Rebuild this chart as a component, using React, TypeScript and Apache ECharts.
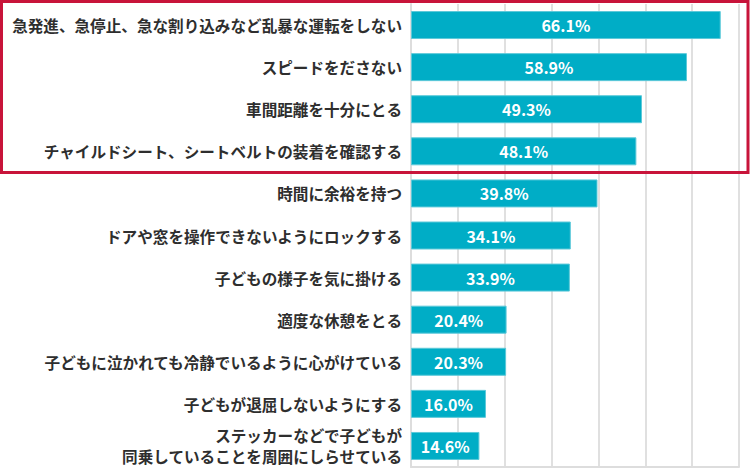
import React, { useEffect, useRef } from "react";
import * as echarts from "echarts";

const categories = [
  "急発進、急停止、急な割り込みなど乱暴な運転をしない",
  "スピードをださない",
  "車間距離を十分にとる",
  "チャイルドシート、シートベルトの装着を確認する",
  "時間に余裕を持つ",
  "ドアや窓を操作できないようにロックする",
  "子どもの様子を気に掛ける",
  "適度な休憩をとる",
  "子どもに泣かれても冷静でいるように心がけている",
  "子どもが退屈しないようにする",
  "ステッカーなどで子どもが\n同乗していることを周囲にしらせている",
];
const values = [66.1, 58.9, 49.3, 48.1, 39.8, 34.1, 33.9, 20.4, 20.3, 16.0, 14.6];

export default function App() {
  const ref = useRef<HTMLDivElement>(null);
  useEffect(() => {
    if (!ref.current) return;
    const chart = echarts.init(ref.current, undefined, { renderer: "svg" });
    const font = '"Noto Sans CJK JP", "Noto Sans", sans-serif';
    chart.setOption({
      animation: false,
      backgroundColor: "#ffffff",
      grid: { left: 411, right: 11, top: 4, bottom: 5 },
      xAxis: {
        type: "value",
        min: 0,
        max: 70,
        interval: 10,
        axisLabel: { show: false },
        axisTick: { show: false },
        axisLine: { show: true, lineStyle: { color: "#dddddd", width: 2 } },
        splitLine: { show: true, lineStyle: { color: "#e0e0e0", width: 2 } },
      },
      yAxis: {
        type: "category",
        inverse: true,
        data: categories,
        axisTick: { show: false },
        axisLine: { show: true, lineStyle: { color: "#dddddd", width: 2 } },
        axisLabel: {
          color: "#2e2e2e",
          fontSize: 15.6,
          fontWeight: "bold",
          fontFamily: font,
          margin: 9,
          lineHeight: 21,
          align: "right",
        },
      },
      series: [
        {
          type: "bar",
          data: values,
          barWidth: 28,
          itemStyle: { color: "#00adc6", borderColor: "#5cc9d9", borderWidth: 1 },
          label: {
            show: true,
            position: "inside",
            color: "#ffffff",
            fontSize: 16,
            fontWeight: "bold",
            fontFamily: font,
            formatter: (p: any) => p.value.toFixed(1) + "%",
          },
        },
      ],
      graphic: [
        {
          type: "rect",
          shape: { x: 1.5, y: 1.5, width: 746.5, height: 171 },
          style: { fill: "none", stroke: "#c8143a", lineWidth: 3 },
          z: 100,
        },
      ],
    });
    return () => chart.dispose();
  }, []);
  return <div ref={ref} style={{ width: 750, height: 472, position: "absolute", left: 0, top: 0 }} />;
}
